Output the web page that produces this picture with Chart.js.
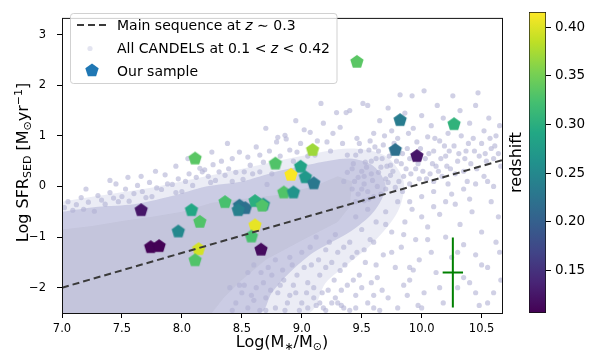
<!DOCTYPE html>
<html>
<head>
<meta charset="utf-8">
<script src="https://cdn.jsdelivr.net/npm/chart.js@4.4.0/dist/chart.umd.min.js"></script>
<style>
  html, body { margin: 0; padding: 0; background: #fff; }
  #wrap { position: relative; width: 589px; height: 360px; }
  #main { position: absolute; left: 0; top: 0; width: 520px; height: 360px; }
  #cbar { position: absolute; left: 505px; top: 0; width: 84px; height: 360px; }
</style>
</head>
<body>
<div id="wrap">
  <canvas id="main" width="520" height="360"></canvas>
  <canvas id="cbar" width="84" height="360"></canvas>
</div>
<script>
// ---- data ----
const xTicks = [7.0, 7.5, 8.0, 8.5, 9.0, 9.5, 10.0, 10.5];
const yTicks = [-2, -1, 0, 1, 2, 3];
const zTicks = [0.15, 0.20, 0.25, 0.30, 0.35, 0.40];
const zMin = 0.106, zMax = 0.4155;

// our sample: stellar mass, SFR, redshift
const sampleMass = [9.46, 9.82, 10.27, 9.78, 9.96, 8.11, 9.09, 8.78, 8.99, 8.91, 9.03, 9.10, 8.85, 8.93, 8.36, 8.48,
                    8.53, 8.47, 8.61, 8.68, 8.67, 8.61, 8.58, 8.66, 8.15, 7.66, 8.08, 7.97, 7.74, 7.81, 8.14, 8.11];
const sampleSFR  = [2.46, 1.31, 1.23, 0.72, 0.60, 0.55, 0.72, 0.45, 0.39, 0.23, 0.18, 0.06, -0.12, -0.12, -0.31, -0.38,
                    -0.43, -0.47, -0.29, -0.36, -0.38, -0.77, -0.99, -1.25, -0.70, -0.47, -0.47, -0.89, -1.20, -1.18, -1.24, -1.46];
const sampleZ    = [0.335, 0.235, 0.305, 0.22, 0.125, 0.335, 0.37, 0.33, 0.285, 0.414, 0.27, 0.23, 0.33, 0.265, 0.325, 0.225,
                    0.22, 0.24, 0.30, 0.265, 0.33, 0.405, 0.325, 0.115, 0.33, 0.125, 0.29, 0.25, 0.108, 0.107, 0.395, 0.33];

// main sequence at z~0.3 (end points)
const msMass = [7.0, 10.67];
const msSFR  = [-2.0, 0.52];

// typical error bar
const errMass = [10.26], errSFR = [-1.70], errMassSig = [0.085], errSFRSig = [0.69];

// CANDELS cloud: solid core outline, denser band, faint halo, and individual galaxies around them
const candelsCore = [[7.0,-0.85],[7.25,-0.78],[7.5,-0.68],[7.75,-0.6],[8.0,-0.5],[8.25,-0.32],[8.5,-0.25],[8.8,-0.17],
  [9.1,0.0],[9.3,0.2],[9.42,0.1],[9.4,-0.4],[9.3,-0.7],[9.0,-1.07],[8.7,-1.45],[8.5,-1.85],[8.35,-2.2],[8.25,-2.5],[7.0,-2.5]];
const candelsBand = [[7.0,-0.5],[7.3,-0.4],[7.6,-0.35],[7.9,-0.2],[8.2,0.0],[8.5,0.1],[8.8,0.3],[9.1,0.45],[9.4,0.55],
  [9.6,0.4],[9.7,0.0],[9.6,-0.5],[9.4,-0.9],[9.1,-1.3],[8.9,-1.7],[8.75,-2.1],[8.65,-2.5],[7.0,-2.5]];
const candelsHalo = [[7.0,-0.3],[7.4,-0.15],[7.8,0.0],[8.2,0.2],[8.6,0.4],[9.0,0.6],[9.4,0.75],[9.7,0.6],[9.85,0.1],
  [9.8,-0.5],[9.6,-1.1],[9.4,-1.5],[9.2,-1.9],[9.05,-2.5],[7.0,-2.5]];
const candels = [
  [7.02,-0.42],[7.05,-0.3],[7.09,-0.47],[7.12,-0.36],[7.16,-0.22],[7.18,-0.45],[7.22,-0.31],[7.27,-0.49],[7.3,-0.18],
  [7.33,-0.27],[7.36,-0.35],[7.4,-0.12],[7.43,-0.23],[7.47,-0.3],[7.5,-0.2],[7.53,-0.05],[7.56,-0.29],[7.6,-0.14],
  [7.63,0.02],[7.67,-0.1],[7.7,-0.22],[7.73,0.08],[7.75,-0.2],[7.79,-0.03],[7.83,-0.06],[7.86,0.23],[7.88,0.05],
  [7.92,0.04],[7.95,-0.12],[7.97,0.15],[8.0,-0.1],[8.03,0.1],[8.06,0.25],[8.09,0.02],[8.12,0.18],[8.15,0.36],
  [8.17,0.29],[8.19,0.33],[8.22,0.2],[8.24,0.08],[8.26,0.43],[8.28,0.12],[8.31,0.29],[8.33,0.5],[8.36,0.22],
  [8.39,0.35],[8.42,0.55],[8.42,0.1],[8.45,0.28],[8.48,0.68],[8.51,0.14],[8.52,0.29],[8.55,0.58],[8.57,0.42],
  [8.59,0.25],[8.62,0.78],[8.65,0.62],[8.65,0.29],[8.68,0.48],[8.71,0.04],[8.73,0.7],[8.75,0.25],[8.79,0.88],
  [8.8,0.97],[8.82,0.6],[8.86,1.01],[8.87,0.94],[8.9,0.72],[8.93,0.5],[8.96,0.68],[8.99,0.85],[9.02,1.12],
  [9.05,0.6],[9.07,1.07],[9.11,0.62],[9.13,0.9],[9.16,1.64],[9.18,1.25],[9.21,0.88],[9.24,0.7],[9.26,1.05],
  [9.29,1.46],[9.32,1.17],[9.34,0.85],[9.37,1.46],[9.4,1.5],[9.38,0.62],[7.4,0.12],[7.2,-0.05],[7.95,0.4],
  [8.05,0.55],[8.38,0.85],[8.7,1.15],[8.95,1.3],[7.55,0.18],[8.25,0.68],[7.45,0.05],[7.66,0.2],[7.78,0.3],[8.1,0.52],
  [9.42,0.35],[9.44,0.1],[9.45,0.62],[9.47,-0.15],[9.48,0.85],[9.5,0.3],[9.51,1.64],[9.52,0.05],[9.53,0.48],
  [9.55,1.6],[9.55,-0.1],[9.56,0.72],[9.58,0.25],[9.6,1.05],[9.6,-0.2],[9.62,0.55],[9.63,0.0],[9.65,1.3],
  [9.66,0.38],[9.68,0.82],[9.7,-0.05],[9.7,0.15],[9.72,1.55],[9.73,0.6],[9.75,1.1],[9.76,0.3],[9.78,-0.02],
  [9.8,0.95],[9.82,1.81],[9.83,0.45],[9.85,0.2],[9.86,1.45],[9.88,0.75],[9.9,0.05],[9.92,1.79],[9.93,1.15],
  [9.95,0.35],[9.96,0.88],[9.98,0.15],[10.0,1.4],[10.02,1.89],[10.03,0.55],[10.05,0.98],[10.07,0.25],[10.08,1.2],
  [10.1,0.7],[10.12,0.4],[10.13,1.6],[10.15,0.9],[10.17,0.2],[10.18,1.35],[10.2,0.6],[10.22,1.05],[10.24,0.35],
  [10.26,1.79],[10.27,0.8],[10.3,0.5],[10.32,1.5],[10.33,1.0],[10.35,0.3],[10.37,0.7],[10.4,1.25],[10.41,0.45],
  [10.43,0.95],[10.45,1.6],[10.47,1.85],[10.48,0.6],[10.5,0.85],[10.52,1.1],[10.54,0.5],[10.56,1.35],[10.58,0.75],
  [10.6,0.55],[10.62,1.0],[10.64,0.65],[10.65,1.2],[9.46,0.95],[9.58,0.5],[9.64,0.7],[9.74,0.42],[9.52,0.2],
  [9.9,0.55],[10.1,0.1],[9.45,-0.3],[9.38,0.28],[9.42,-0.05],[9.35,0.1],[9.52,-0.28],
  [9.43,0.45],[9.47,0.18],[9.49,0.7],[9.54,0.38],[9.57,0.9],[9.59,0.12],[9.61,0.78],[9.64,0.28],[9.67,0.55],
  [9.69,1.0],[9.71,0.4],[9.74,0.22],[9.77,0.85],[9.79,0.5],[9.81,0.1],[9.84,0.65],[9.87,0.35],[9.89,1.05],
  [9.91,0.25],[9.94,0.6],[9.97,0.45],[9.99,0.75],[10.01,0.3],[10.04,0.15],[10.06,0.65],[10.09,0.45],[10.11,0.95],
  [10.14,0.3],[10.16,0.55],[10.19,0.8],[10.21,0.4],[10.23,0.7],[10.28,0.25],[10.31,0.65],[10.36,0.55],[10.39,0.85],
  [10.44,0.7],[10.46,0.35],[10.53,0.65],[10.57,0.95],[10.61,0.8],[10.66,0.4],[9.5,-0.05],[9.56,-0.25],[9.66,-0.15],
  [9.72,0.08],[9.84,-0.1],
  [9.45,-0.6],[9.5,-0.85],[9.55,-0.45],[9.6,-1.1],[9.62,-0.7],[9.68,-1.35],[9.7,-0.5],[9.75,-0.9],[9.78,-1.6],
  [9.8,-0.3],[9.83,-1.2],[9.86,-0.7],[9.9,-1.85],[9.92,-0.45],[9.95,-1.05],[9.98,-1.45],[10.0,-0.2],[10.02,-2.1],
  [10.05,-0.8],[10.08,-1.3],[10.1,-0.1],[10.12,-1.7],[10.15,-0.55],[10.18,-2.3],[10.2,-1.0],[10.22,0.05],
  [10.25,-1.4],[10.28,-0.35],[10.3,-2.0],[10.32,-0.75],[10.35,-1.15],[10.38,0.1],[10.4,-1.9],[10.42,-0.5],
  [10.45,-1.35],[10.48,-2.35],[10.5,-0.9],[10.52,0.2],[10.55,-1.6],[10.58,-0.3],[10.6,-2.1],[10.62,-1.1],
  [10.64,-0.6],[10.66,-1.85],[10.0,-0.6],[10.1,-0.4],[10.25,-0.15],[10.35,-0.05],[10.45,0.05],[10.55,0.1],
  [10.2,-0.3],[10.4,-0.25],[10.6,0.0],[9.9,-0.3],[9.7,-0.75],[9.85,-0.95],[10.05,-1.05],[10.3,-1.3],[10.5,-1.55],
  [10.65,-1.3],[10.35,-1.8],[10.15,-2.0],[10.55,-2.3],[10.45,-2.1],[10.0,-2.4],[9.9,-1.6],
  [9.0,-1.3],[9.05,-1.9],[9.08,-1.55],[9.1,-2.2],[9.12,-1.0],[9.15,-1.75],[9.18,-2.4],[9.2,-1.25],[9.22,-2.05],
  [9.25,-1.5],[9.28,-0.95],[9.3,-2.3],[9.32,-1.66],[9.35,-1.2],[9.38,-1.95],[9.4,-2.45],[9.42,-1.4],[9.45,-2.15],
  [9.48,-1.75],[9.52,-1.25],[9.55,-2.3],[9.58,-1.9],[9.62,-1.55],[9.65,-2.45],[9.67,-2.05],[9.72,-2.2],[9.75,-1.3],
  [9.8,-2.4],[9.85,-1.95],[9.88,-2.15],[9.93,-1.65],[9.97,-2.35],[8.85,-1.85],[8.88,-2.3],[8.92,-1.55],[8.95,-2.1],
  [8.78,-2.4],[8.7,-2.2],[8.62,-2.0],[8.75,-1.75],[8.98,-2.45],[8.82,-1.95],[8.4,-2.0],[8.45,-2.3],[8.5,-2.1],
  [8.55,-2.4],[8.6,-2.25],[8.65,-2.45],[8.68,-1.9],[8.52,-1.95],[9.0,-2.3],[9.05,-2.4],[9.12,-2.35],[9.2,-2.45],
  [9.25,-2.3],[9.35,-2.4],[9.1,-2.0],[9.28,-2.2],
  [8.55,-1.7],[8.6,-1.55],[8.66,-1.7],[8.72,-1.6],[8.78,-1.45],[8.8,-2.1],[8.84,-1.65],[8.9,-1.4],[8.93,-1.95],
  [8.96,-1.75],[9.02,-1.6],[9.04,-2.1],[9.07,-1.2],[9.14,-1.45],[9.17,-2.1],[9.2,-1.6],[9.23,-1.1],[9.27,-1.85],
  [9.3,-1.3],[9.33,-2.05],[9.36,-1.55],[9.4,-1.1],[9.43,-1.85],[9.46,-1.3],[9.5,-2.0],[9.53,-1.5],[9.57,-1.05],
  [9.6,-2.15],[9.63,-1.8],[8.42,-2.45],[8.48,-1.95],[8.58,-2.15],[8.7,-2.45],[8.74,-2.05],[8.86,-2.45],[8.9,-2.15],
  [9.15,-2.3],[9.33,-2.35],[9.45,-2.4],[9.6,-2.4]
];

const legendNames = ['Main sequence at ', 'All CANDELS at 0.1 < ', 'Our sample'];

const viridisStops = ['#440154', '#482475', '#414487', '#355f8d', '#2a788e', '#21918c',
                      '#22a884', '#44bf70', '#7ad151', '#bddf26', '#fde725'];

// ---- helpers ----
Chart.defaults.font.family = "'DejaVu Sans', sans-serif";
Chart.defaults.color = '#000';

function hexRgb(h) {
  return [parseInt(h.slice(1, 3), 16), parseInt(h.slice(3, 5), 16), parseInt(h.slice(5, 7), 16)];
}
function viridis(z) {
  let t = Math.max(0, Math.min(1, (z - zMin) / (zMax - zMin)));
  const n = viridisStops.length - 1;
  const i = Math.min(n - 1, Math.floor(t * n));
  const f = t * n - i;
  const a = hexRgb(viridisStops[i]), b = hexRgb(viridisStops[i + 1]);
  const c = a.map((v, k) => Math.round(v + (b[k] - v) * f));
  return 'rgb(' + c.join(',') + ')';
}
function pentagonPath(ctx, cx, cy, r) {
  ctx.beginPath();
  for (let k = 0; k < 5; k++) {
    const a = -Math.PI / 2 + k * 2 * Math.PI / 5;
    const px = cx + r * Math.cos(a), py = cy + r * Math.sin(a);
    if (k) ctx.lineTo(px, py); else ctx.moveTo(px, py);
  }
  ctx.closePath();
}
function pentagonMarker(color) {
  const r = 7, s = 16;
  const c = document.createElement('canvas');
  c.width = s; c.height = s;
  const g = c.getContext('2d');
  pentagonPath(g, s / 2, s / 2, r);
  g.fillStyle = color;
  g.fill();
  return c;
}
// draw text made of pieces (sub/superscripts, italics)
function richText(ctx, parts, x, y, align) {
  let w = 0;
  parts.forEach(p => { ctx.font = (p.it ? 'italic ' : '') + p.size + "px 'DejaVu Sans'"; w += ctx.measureText(p.t).width; });
  let cx = align === 'left' ? x : x - w / 2;
  ctx.textBaseline = 'alphabetic';
  ctx.textAlign = 'left';
  parts.forEach(p => {
    ctx.font = (p.it ? 'italic ' : '') + p.size + "px 'DejaVu Sans'";
    ctx.fillText(p.t, cx, y + (p.dy || 0));
    cx += ctx.measureText(p.t).width;
  });
}

const pts = a => a.map(([x, y]) => ({ x, y }));
const cloudColor = 'rgba(176,177,211,0.6)';
const lineColor = '#3a3a3a';

// ---- plugins ----
const framePlugin = {
  id: 'frame',
  afterDatasetsDraw(chart) {
    const { ctx, chartArea: a } = chart;
    ctx.save();
    ctx.strokeStyle = '#111';
    ctx.lineWidth = 1;
    ctx.strokeRect(a.left + 0.5, a.top + 0.5, a.right - a.left, a.bottom - a.top);
    ctx.restore();
  }
};

const titlesPlugin = {
  id: 'titles',
  afterDraw(chart) {
    const { ctx, chartArea: a } = chart;
    ctx.save();
    ctx.fillStyle = '#000';
    const cx = (a.left + a.right) / 2;
    richText(ctx, [
      { t: 'Log(M', size: 16 }, { t: '\u2217', size: 11, dy: 3 }, { t: '/M', size: 16 },
      { t: '\u2299', size: 11, dy: 3 }, { t: ')', size: 16 }
    ], cx, 347);
    ctx.translate(28, (a.top + a.bottom) / 2 - 3);
    ctx.rotate(-Math.PI / 2);
    richText(ctx, [
      { t: 'Log SFR', size: 16 }, { t: 'SED', size: 11, dy: 3 }, { t: ' [M', size: 16 },
      { t: '\u2299', size: 11, dy: 3 }, { t: 'yr', size: 16 }, { t: '\u22121', size: 11, dy: -6 }, { t: ']', size: 16 }
    ], 0, 0);
    ctx.restore();
  }
};

const legendPlugin = {
  id: 'mplLegend',
  afterDraw(chart) {
    const ctx = chart.ctx;
    ctx.save();
    const x0 = 70.5, y0 = 13.5, w = 266.5, h = 70, r = 3;
    ctx.beginPath();
    ctx.moveTo(x0 + r, y0);
    ctx.arcTo(x0 + w, y0, x0 + w, y0 + h, r);
    ctx.arcTo(x0 + w, y0 + h, x0, y0 + h, r);
    ctx.arcTo(x0, y0 + h, x0, y0, r);
    ctx.arcTo(x0, y0, x0 + w, y0, r);
    ctx.closePath();
    ctx.fillStyle = 'rgba(255,255,255,0.8)';
    ctx.fill();
    ctx.strokeStyle = 'rgba(204,204,204,0.9)';
    ctx.lineWidth = 1;
    ctx.stroke();

    ctx.beginPath();
    ctx.setLineDash([7, 4]);
    ctx.moveTo(77, 25);
    ctx.lineTo(106, 25);
    ctx.strokeStyle = lineColor;
    ctx.lineWidth = 2;
    ctx.stroke();
    ctx.setLineDash([]);
    ctx.beginPath();
    ctx.arc(90, 48.5, 2.6, 0, 2 * Math.PI);
    ctx.fillStyle = 'rgba(176,177,211,0.35)';
    ctx.fill();
    pentagonPath(ctx, 92, 70.5, 7);
    ctx.fillStyle = '#1f77b4';
    ctx.fill();

    ctx.fillStyle = '#000';
    richText(ctx, [{ t: legendNames[0], size: 14 }, { t: 'z', size: 14, it: true }, { t: ' \u223c 0.3', size: 14 }], 117, 30, 'left');
    richText(ctx, [{ t: legendNames[1], size: 14 }, { t: 'z', size: 14, it: true }, { t: ' < 0.42', size: 14 }], 117, 53, 'left');
    richText(ctx, [{ t: legendNames[2], size: 14 }], 117, 76, 'left');
    ctx.restore();
  }
};

// ---- main chart ----
new Chart(document.getElementById('main'), {
  type: 'scatter',
  data: {
    datasets: [
      {
        type: 'line', label: 'Main sequence',
        data: msMass.map((x, i) => ({ x, y: msSFR[i] })),
        borderColor: lineColor, borderWidth: 2, borderDash: [7, 4], pointRadius: 0, fill: false, order: 0
      },
      {
        label: 'Our sample',
        data: sampleMass.map((x, i) => ({ x, y: sampleSFR[i] })),
        pointStyle: sampleZ.map(z => pentagonMarker(viridis(z))),
        pointRadius: 7, order: 1
      },
      {
        type: 'line', label: 'err y',
        data: [{ x: errMass[0], y: errSFR[0] + errSFRSig[0] }, { x: errMass[0], y: errSFR[0] - errSFRSig[0] }],
        borderColor: '#008000', borderWidth: 2, pointRadius: 0, fill: false, order: 2
      },
      {
        type: 'line', label: 'err x',
        data: [{ x: errMass[0] - errMassSig[0], y: errSFR[0] }, { x: errMass[0] + errMassSig[0], y: errSFR[0] }],
        borderColor: '#008000', borderWidth: 2, pointRadius: 0, fill: false, order: 2
      },
      {
        label: 'All CANDELS',
        data: pts(candels),
        backgroundColor: cloudColor, borderWidth: 0, pointRadius: 2.6, order: 3
      },
      {
        type: 'line', label: 'CANDELS core',
        data: pts(candelsCore),
        borderWidth: 0, pointRadius: 0, fill: 'shape', backgroundColor: 'rgb(196,197,220)', tension: 0, order: 4
      },
      {
        type: 'line', label: 'CANDELS band',
        data: pts(candelsBand),
        borderWidth: 0, pointRadius: 0, fill: 'shape', backgroundColor: 'rgba(190,191,221,0.7)', tension: 0.3, order: 5
      },
      {
        type: 'line', label: 'CANDELS halo',
        data: pts(candelsHalo),
        borderWidth: 0, pointRadius: 0, fill: 'shape', backgroundColor: 'rgba(190,191,221,0.3)', tension: 0.3, order: 6
      }
    ]
  },
  options: {
    responsive: false,
    animation: false,
    events: [],
    layout: { padding: { top: 15, right: 18, left: 0, bottom: 0 } },
    plugins: { legend: { display: false }, tooltip: { enabled: false } },
    scales: {
      x: {
        type: 'linear', min: 7.0, max: 10.67,
        afterBuildTicks: s => { s.ticks = xTicks.map(v => ({ value: v })); },
        afterFit: s => { s.height = 47; },
        ticks: { callback: v => v.toFixed(1), font: { size: 11.5 }, color: '#000', padding: 4, maxRotation: 0, autoSkip: false },
        grid: { drawOnChartArea: false, drawTicks: true, tickLength: 5, tickColor: '#000' },
        border: { display: false }
      },
      y: {
        type: 'linear', min: -2.5, max: 3.33,
        afterBuildTicks: s => { s.ticks = yTicks.map(v => ({ value: v })); },
        afterFit: s => { s.width = 62; },
        ticks: { callback: v => (v < 0 ? '\u2212' : '') + Math.abs(v), font: { size: 11.5 }, color: '#000', padding: 11, autoSkip: false },
        grid: { drawOnChartArea: false, drawTicks: true, tickLength: 5, tickColor: '#000' },
        border: { display: false }
      }
    }
  },
  plugins: [framePlugin, titlesPlugin, legendPlugin]
});

// ---- colour bar ----
new Chart(document.getElementById('cbar'), {
  type: 'bar',
  data: {
    labels: ['redshift'],
    datasets: [{
      data: [[zMin, zMax]],
      backgroundColor: c => {
        const ch = c.chart;
        if (!ch.chartArea) return 'rgba(0,0,0,0)';
        const ys = ch.scales.y;
        const g = ch.ctx.createLinearGradient(0, ys.getPixelForValue(zMin), 0, ys.getPixelForValue(zMax));
        viridisStops.forEach((col, i) => g.addColorStop(i / (viridisStops.length - 1), col));
        return g;
      },
      borderColor: '#111', borderWidth: 1, borderSkipped: false,
      barPercentage: 1, categoryPercentage: 1
    }]
  },
  options: {
    responsive: false,
    animation: false,
    events: [],
    layout: { padding: { top: 7, bottom: 47, left: 0, right: 0 } },
    plugins: { legend: { display: false }, tooltip: { enabled: false } },
    scales: {
      x: { display: false },
      y: {
        type: 'linear', position: 'right', min: zMin, max: zMax,
        afterBuildTicks: s => { s.ticks = zTicks.map(v => ({ value: v })); },
        afterFit: s => { s.width = 43; },
        ticks: { callback: v => v.toFixed(2), font: { size: 13.5 }, color: '#000', padding: 4, autoSkip: false },
        grid: { drawOnChartArea: false, drawTicks: true, tickLength: 5, tickColor: '#000' },
        border: { display: false }
      },
      yl: {
        type: 'linear', position: 'left',
        afterFit: s => { s.width = 24; },
        ticks: { display: false },
        grid: { display: false },
        border: { display: false },
        title: { display: true, text: 'redshift', font: { size: 16 }, color: '#000', padding: { top: 2, bottom: 0 } }
      }
    }
  }
});
</script>
</body>
</html>
